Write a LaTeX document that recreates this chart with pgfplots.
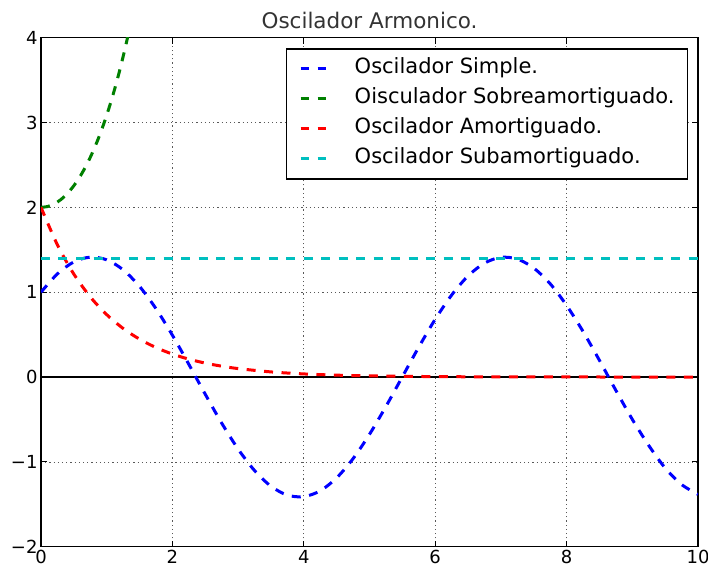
\documentclass[border=0pt]{standalone}
\usepackage{pgfplots}
\pgfplotsset{compat=1.18}
\usepackage{fontspec}
\setmainfont{DejaVu Sans}
\definecolor{mplgreen}{rgb}{0,0.5,0}
\definecolor{mplcyan}{rgb}{0,0.75,0.75}
\begin{document}
\begin{tikzpicture}
\begin{axis}[name=ax, scale only axis, width=657pt, height=509pt,
 xmin=0, xmax=10, ymin=-2, ymax=4,
 xtick={0,2,4,6,8,10}, xticklabels={0,2,4,6,8,10},
 ytick={-2,-1,0,1,2,3,4}, yticklabels={−2,−1,0,1,2,3,4},
 tick align=inside, major tick length=6pt,
 every tick/.style={black, line width=1pt},
 axis line style={black, line width=1.2pt},
 grid=major, grid style={black!65, line width=0.7pt, dash pattern=on 1.2pt off 3pt},
 ticklabel style={font=\fontsize{18}{21}\selectfont},
 title={Oscilador Armonico.},
 title style={font=\fontsize{21.5}{25}\selectfont, anchor=base, at={(0.5,1)}, yshift=3.6pt, text=black!80},
 legend style={at={(0.985,0.979)}, anchor=north east, draw=black, line width=1.2pt, fill=white,
   font=\fontsize{21}{25}\selectfont, inner xsep=13pt, inner ysep=10pt,
   nodes={inner sep=0pt, text height=15pt, text depth=5pt}, row sep=10pt,
   /tikz/every odd column/.append style={column sep=27pt}},
 legend cell align=left,
 legend image code/.code={\draw[#1, dash pattern=on 8.5pt off 8.5pt] (0pt,0pt) -- (25.5pt,0pt);},
]
\addplot[black, line width=1.2pt, forget plot] coordinates {(0,0) (10,0)};
\addplot[blue, line width=3pt, dash pattern=on 9pt off 8.5pt, smooth] coordinates {
(0,1.0000) (0.25,1.2163) (0.5,1.3570) (0.75,1.4133) (1,1.3818) (1.25,1.2643) (1.5,1.0682) (1.75,0.8058)
(2,0.4932) (2.25,0.1499) (2.5,-0.2026) (2.75,-0.5426) (3,-0.8489) (3.25,-1.1023) (3.5,-1.2873) (3.75,-1.3922)
(4,-1.4104) (4.25,-1.3411) (4.5,-1.1883) (4.75,-0.9617) (5,-0.6752) (5.25,-0.3468) (5.5,0.0032) (5.75,0.3529)
(6,0.6808) (6.25,0.9662) (6.5,1.1917) (6.75,1.3427) (7,1.4109) (7.25,1.3905) (7.5,1.2846) (7.75,1.0994)
(8,0.8439) (8.25,0.5375) (8.5,0.1965) (8.75,-0.1574) (9,-0.4990) (9.25,-0.8065) (9.5,-1.0724) (9.75,-1.2671)
(10,-1.3831)};
\addlegendentry{Oscilador Simple.}
\addplot[mplgreen, line width=3pt, dash pattern=on 9pt off 8.5pt, smooth] coordinates {
(0,2.0000) (0.1,2.0100) (0.2,2.0401) (0.3,2.0907) (0.4,2.1621) (0.5,2.2553) (0.6,2.3709) (0.7,2.5103)
(0.8,2.6749) (0.9,2.8662) (1.0,3.0862) (1.1,3.3371) (1.2,3.6213) (1.3,3.9417) (1.4,4.3018)};
\addlegendentry{Oisculador Sobreamortiguado.}
\addplot[red, line width=3pt, dash pattern=on 9pt off 8.5pt, smooth] coordinates {
(0,2.0000) (0.25,1.5576) (0.5,1.2131) (0.75,0.9447) (1,0.7358) (1.25,0.5730) (1.5,0.4463) (1.75,0.3476)
(2,0.2707) (2.25,0.2108) (2.5,0.1642) (2.75,0.1279) (3,0.0996) (3.5,0.0604) (4,0.0366) (4.5,0.0222)
(5,0.0135) (6,0.0050) (7,0.0018) (8,0.0007) (9,0.0002) (10,0.0001)};
\addlegendentry{Oscilador Amortiguado.}
\addplot[mplcyan, line width=3pt, dash pattern=on 9pt off 8.5pt] coordinates {(0,1.4) (10,1.4)};
\addlegendentry{Oscilador Subamortiguado.}
\end{axis}
\pgfresetboundingbox
\path ([xshift=-41pt,yshift=-20.3pt]ax.south west) rectangle ([xshift=10pt,yshift=37.7pt]ax.north east);
\end{tikzpicture}
\end{document}
